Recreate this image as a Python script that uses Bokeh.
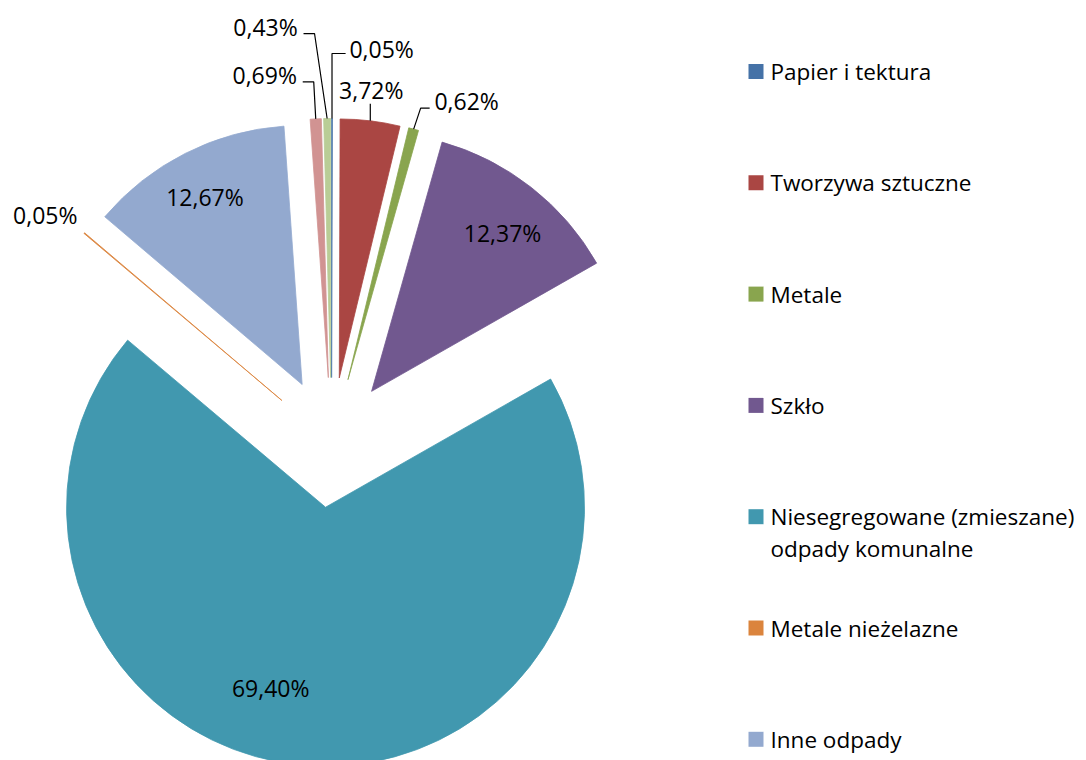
import math
from bokeh.plotting import figure
from bokeh.models import ColumnDataSource, Range1d
from bokeh.embed import file_html
from bokeh.resources import INLINE
from bokeh.core.properties import value

# ---------------- data ----------------
categories = ["Papier i tektura", "Tworzywa sztuczne", "Metale", "Szkło",
              "Niesegregowane (zmieszane)\nodpady komunalne", "Metale nieżelazne",
              "Inne odpady", "", ""]
values = [0.05, 3.72, 0.62, 12.37, 69.40, 0.05, 12.67, 0.69, 0.43]
colors = ["#4572A7", "#AA4643", "#89A54E", "#71588F", "#4198AF",
          "#DB843D", "#93A9CF", "#D19392", "#B9CD96"]

# ---------------- layout ----------------
W, H = 1078, 760
CX, CY = 331, H - 442      # pie centre (data px)
R = 259                    # radius
EXPLODE = 65               # explosion distance
FONT = value("Open Sans")
FS_LAB = "23px"
FS_LEG = "22.5px"

# label placement: ("in", radius fraction, angle shift deg clockwise)
#                  ("out", dx, dy) screen offset from slice outer midpoint
label_layout = [("out", 49.6, -70), ("out", 1, -31), ("out", 53, -28),
                ("in", 0.792, 1.6), ("in", 0.73, 11.6), ("out", -39, -18.5),
                ("in", 0.817, -0.5), ("out", -51, -44), ("out", -61.6, -92)]
# leader: (elbow dx from label or None = vertical at outer x, elbow dy, end dx or None)
leader_layout = [(None, 5, -36), (None, 14, None), (-46, 7, -37), None, None,
                 None, None, (49, 7, 38), (49, 7, 38)]

total = sum(values)
xs, ys, starts, ends = [], [], [], []
lab_x, lab_y, lab_t = [], [], []
lead_xs, lead_ys = [], []
cum = 0.0
for i, v in enumerate(values):
    a = cum / total
    cum += v
    b = cum / total
    start = math.pi / 2 - 2 * math.pi * b
    end = math.pi / 2 - 2 * math.pi * a
    mid = (start + end) / 2
    ax = CX + EXPLODE * math.cos(mid)
    ay = CY + EXPLODE * math.sin(mid)
    xs.append(ax); ys.append(ay); starts.append(start); ends.append(end)
    ox = ax + R * math.cos(mid)
    oy = ay + R * math.sin(mid)
    lay = label_layout[i]
    if lay[0] == "in":
        ang = mid - math.radians(lay[2])
        lx = ax + lay[1] * R * math.cos(ang)
        ly = ay + lay[1] * R * math.sin(ang)
    else:
        lx = ox + lay[1]
        ly = oy - lay[2]
    lab_x.append(lx); lab_y.append(ly)
    lab_t.append(("%.2f" % v).replace(".", ",") + "%")
    ld = leader_layout[i]
    if ld is not None:
        ex = ox if ld[0] is None else lx + ld[0]
        ey = ly - ld[1]
        px, py = [ox, ex], [oy, ey]
        if ld[2] is not None:
            px.append(lx + ld[2]); py.append(ey)
        lead_xs.append(px); lead_ys.append(py)

p = figure(width=W, height=H, output_backend="svg", toolbar_location=None,
           x_range=Range1d(0, W), y_range=Range1d(0, H),
           x_axis_location=None, y_axis_location=None, min_border=0)
p.grid.visible = False
p.outline_line_color = None
p.background_fill_color = "white"
p.border_fill_color = "white"

src = ColumnDataSource(dict(x=xs, y=ys, s=starts, e=ends, c=colors))
p.wedge(x="x", y="y", radius=R, start_angle="s", end_angle="e",
        fill_color="c", line_color="c", line_width=0.8, source=src)

p.multi_line(xs=lead_xs, ys=lead_ys, line_color="black", line_width=1.2)

p.text(x=lab_x, y=lab_y, text=lab_t, text_font=FONT, text_font_size=FS_LAB,
       text_align="center", text_baseline="middle", text_color="#000000")

# ---------------- legend ----------------
LEG_X, LEG_Y0, LEG_STEP, LINE_H, SQ = 755.5, H - 71, 111.3, 32, 15
leg_sx, leg_sy, leg_c = [], [], []
t_x, t_y, t_t = [], [], []
for i, name in enumerate(categories):
    if not name:
        continue
    yy = LEG_Y0 - i * LEG_STEP
    leg_sx.append(LEG_X); leg_sy.append(yy); leg_c.append(colors[i])
    for j, line in enumerate(name.split("\n")):
        t_x.append(LEG_X + 14.5); t_y.append(yy - j * LINE_H); t_t.append(line)
p.rect(x=leg_sx, y=leg_sy, width=SQ, height=SQ, fill_color=leg_c, line_color=None)
p.text(x=t_x, y=t_y, text=t_t, text_font=FONT, text_font_size=FS_LEG,
       text_align="left", text_baseline="middle", text_color="#000000")

open("out.html", "w").write(file_html(p, INLINE))
